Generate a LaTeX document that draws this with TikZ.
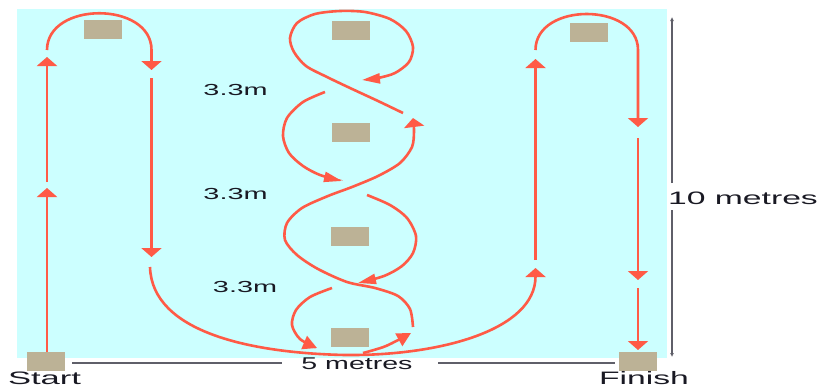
\documentclass[tikz,border=0pt]{standalone}
\usepackage{fontspec}
\setmainfont{Liberation Sans}
\usetikzlibrary{arrows.meta}
\definecolor{bgcyan}{RGB}{204,255,255}
\definecolor{routecol}{RGB}{255,90,70}
\definecolor{conecol}{RGB}{188,178,150}
\definecolor{dimcol}{RGB}{95,95,105}
\definecolor{txtcol}{RGB}{25,25,35}
\newcommand{\stx}[3]{\scalebox{#1}[1]{\fontsize{#2}{#2}\selectfont #3}}
\begin{document}
\begin{tikzpicture}[x=1pt,y=-1pt,
  cone/.style={rectangle,fill=conecol,minimum width=38pt,minimum height=19pt,inner sep=0pt},
  runline/.style={draw=routecol,line width=2.6pt},
  vtip/.style={-{Triangle[width=20pt,length=9pt]}},
  htip/.style={-{Triangle[width=10pt,length=18pt]}},
  dtip/.style={-{Triangle[width=14pt,length=14pt]}},
  dimline/.style={draw=dimcol,line width=1.6pt},
  lbl/.style={text=txtcol,inner sep=0pt}]
\useasboundingbox (0,0) rectangle (821,389);
\fill[bgcyan] (17,9) rectangle (667,358);

% cones
\node[cone] (startbox) at (46,361) {};
\node[cone] (finishbox) at (638,361) {};
\node[cone] (tl) at (102.5,29) {};
\node[cone] (tr) at (588.5,32.5) {};
\node[cone] (c1) at (351,30.5) {};
\node[cone] (c2) at (351,132) {};
\node[cone] (c3) at (349.5,236) {};
\node[cone] (c4) at (349.5,337) {};

% labels
\node[lbl] (startlbl) at (44.5,378.5) {\stx{1.92}{18}{Start}};
\node[lbl] (finishlbl) at (644,378) {\stx{1.87}{18}{Finish}};
\node[lbl] (fivem) at (357,364) {\stx{1.68}{17}{5 metres}};
\node[lbl] (tenm) at (743,198.5) {\stx{1.87}{18}{10 metres}};
\node[lbl] (d1) at (235.5,89.5) {\stx{1.8}{16}{3.3m}};
\node[lbl] (d2) at (235.5,194) {\stx{1.8}{16}{3.3m}};
\node[lbl] (d3) at (245,286.5) {\stx{1.8}{16}{3.3m}};

% dimension lines
\coordinate (bl) at (72,363);
\coordinate (gl) at (282,363);
\coordinate (gr) at (438,363);
\coordinate (br) at (615,363);
\draw[dimline] (bl) -- (gl);
\draw[dimline] (gr) -- (br);
\coordinate (vt) at (672,17);
\coordinate (vm1) at (672,183);
\coordinate (vm2) at (672,210);
\coordinate (vb) at (672,357);
\draw[dimline,-{Latex[length=4pt,width=4pt]}] (vm1) -- (vt);
\draw[dimline,-{Latex[length=4pt,width=4pt]}] (vm2) -- (vb);

% left column
\draw[runline,vtip] (47,352) -- (47,188);
\draw[runline,vtip] (47,182) -- (47,57);
\draw[runline,vtip] (47,50) .. controls (47,1) and (151.5,1) .. (151.5,50) -- (151.5,70);
\draw[runline,vtip] (151.5,78) -- (151.5,257);

% big bottom curve
\draw[runline,vtip] (150,267) .. controls (152,332) and (250,353) .. (345,355)
   .. controls (440,356) and (535.5,330) .. (535.5,268);

% right column
\draw[runline,vtip] (535.5,260) -- (535.5,59);
\draw[runline,vtip] (535.5,50) .. controls (535.5,2) and (638,2) .. (638,50) -- (638,127);
\draw[runline,vtip] (638,138) -- (638,280);
\draw[runline,vtip] (638,288) -- (638,350);

% figure eights
\draw[runline,dtip] plot[smooth] coordinates {(363,353) (386,346) (411,333)};
\draw[runline,vtip] plot[smooth] coordinates {(413,327) (410,309) (398,296) (375,288) (347,282) (318,269) (297,255) (285,240) (287,223) (302,208) (328,196) (352,187) (378,176) (400,163) (412,147) (414,131) (413,118)};
\draw[runline,htip] plot[smooth] coordinates {(403,113) (378,101) (350,88) (327,77) (306,66) (294,52) (290,38) (297,23) (315,14) (340,11) (365,12) (390,19) (406,31) (413,47) (409,62) (395,73) (378,78) (362,80)};
\draw[runline,htip] plot[smooth] coordinates {(325,92) (303,102) (287,118) (283,136) (289,153) (303,166) (320,175) (342,181)};
\draw[runline,htip] plot[smooth] coordinates {(367,195) (390,205) (407,218) (416,236) (413,253) (402,266) (384,276) (358,283)};
\draw[runline,dtip] plot[smooth] coordinates {(332,288) (310,297) (296,310) (292,325) (300,339) (317,348)};
\end{tikzpicture}
\end{document}
